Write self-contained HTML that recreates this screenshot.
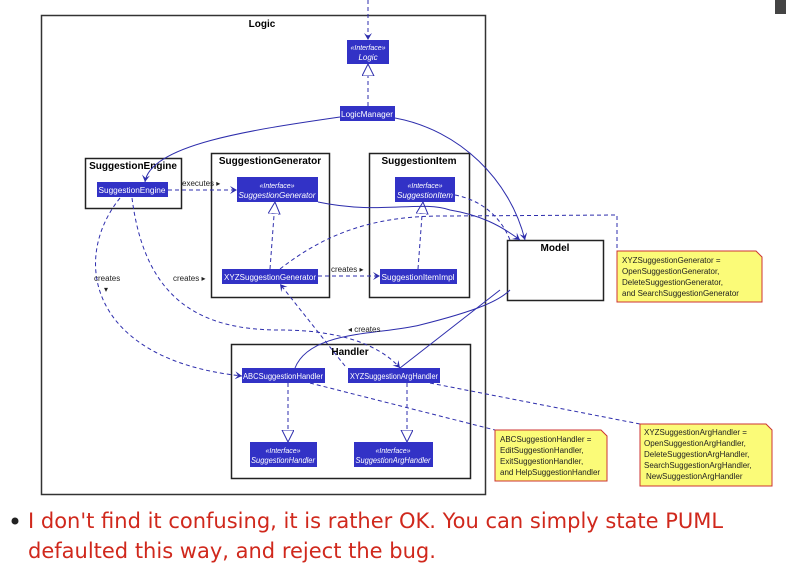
<!DOCTYPE html>
<html><head><style>
body{margin:0;width:786px;height:575px;overflow:hidden;background:#fff;font-family:"Liberation Sans",sans-serif;}
svg{position:absolute;left:0;top:0}
.t{position:absolute;left:28px;color:#d0281c;font-size:21px;line-height:30px;font-family:"DejaVu Sans","Liberation Sans",sans-serif;}
</style></head><body>
<svg width="786" height="575" font-family="Liberation Sans, sans-serif">
<defs>
<marker id="a" markerWidth="8" markerHeight="8" refX="7" refY="4" orient="auto" markerUnits="userSpaceOnUse"><path d="M0,0 L7,4 L0,8 L3,4 Z" fill="#2d2dac"/></marker>
<marker id="o" markerWidth="14" markerHeight="14" refX="12" refY="6" orient="auto" markerUnits="userSpaceOnUse"><path d="M0,0 L12,6 L0,12 Z" fill="#fff" stroke="#2d2dac"/></marker>
</defs>
<rect x="775" y="0" width="11" height="14" fill="#444"/>
<rect x="41.5" y="15.5" width="444" height="479" fill="#fff" stroke="#333" stroke-width="1.5"/>
<text x="262" y="27" font-size="10" font-weight="bold" text-anchor="middle">Logic</text>
<rect x="85.5" y="158.5" width="96" height="50" fill="none" stroke="#222" stroke-width="1.5"/>
<text x="133" y="169" font-size="10" font-weight="bold" text-anchor="middle">SuggestionEngine</text>
<rect x="211.5" y="153.5" width="118" height="144" fill="none" stroke="#222" stroke-width="1.5"/>
<text x="270" y="164" font-size="10" font-weight="bold" text-anchor="middle">SuggestionGenerator</text>
<rect x="369.5" y="153.5" width="100" height="144" fill="none" stroke="#222" stroke-width="1.5"/>
<text x="419" y="164" font-size="10" font-weight="bold" text-anchor="middle">SuggestionItem</text>
<rect x="231.5" y="344.5" width="239" height="134" fill="none" stroke="#222" stroke-width="1.5"/>
<text x="350" y="355" font-size="10" font-weight="bold" text-anchor="middle">Handler</text>
<rect x="507.5" y="240.5" width="96" height="60" fill="#fff" stroke="#222" stroke-width="1.5"/>
<text x="555" y="251" font-size="10" font-weight="bold" text-anchor="middle">Model</text>
<g stroke="#2d2dac" fill="none" stroke-width="1">
<path d="M368,0 L368,40" stroke-dasharray="4,3" marker-end="url(#a)"/>
<path d="M368,106 L368,64" stroke-dasharray="4,3" marker-end="url(#o)"/>
<path d="M340,117 C250,130 150,145 145,182" marker-end="url(#a)"/>
<path d="M395,118 C460,130 510,180 525,240" marker-end="url(#a)"/>
<path d="M168,190 L237,190" stroke-dasharray="4,3" marker-end="url(#a)"/>
<path d="M270,269 L275,202" stroke-dasharray="4,3" marker-end="url(#o)"/>
<path d="M418,269 L423,202" stroke-dasharray="4,3" marker-end="url(#o)"/>
<path d="M318,202 C380,215 420,200 450,210 C480,215 500,225 520,240" marker-end="url(#a)"/>
<path d="M455,195 C480,200 500,215 510,240" stroke-dasharray="4,3"/>
<path d="M318,276 L380,276" stroke-dasharray="4,3" marker-end="url(#a)"/>
<path d="M280,269 C330,230 380,215 450,216 L617,215 L617,251" stroke-dasharray="4,3"/>
<path d="M120,198 C70,260 90,360 242,376" stroke-dasharray="4,3" marker-end="url(#a)"/>
<path d="M132,198 C145,300 200,330 280,330 C340,330 380,345 400,368" stroke-dasharray="4,3" marker-end="url(#a)"/>
<path d="M345,366 L280,284" stroke-dasharray="4,3" marker-end="url(#a)"/>
<path d="M295,368 C310,330 380,335 420,325 C480,310 500,300 510,290"/>
<path d="M400,368 L500,290"/>
<path d="M288,383 L288,442" stroke-dasharray="4,3" marker-end="url(#o)"/>
<path d="M407,383 L407,442" stroke-dasharray="4,3" marker-end="url(#o)"/>
<path d="M310,383 L495,430" stroke-dasharray="4,3"/>
<path d="M430,383 L640,424" stroke-dasharray="4,3"/>
</g>
<g font-size="8" fill="#fff" text-anchor="middle">
<rect x="347" y="40" width="42" height="24" fill="#3232c6"/>
<text x="368" y="50" font-style="italic" font-size="7">«Interface»</text><text x="368" y="60" font-style="italic">Logic</text>
<rect x="340" y="106" width="55" height="15" fill="#3232c6"/><text x="367" y="117" textLength="52" lengthAdjust="spacingAndGlyphs">LogicManager</text>
<rect x="97" y="182" width="71" height="15" fill="#3232c6"/><text x="132" y="193" textLength="67" lengthAdjust="spacingAndGlyphs">SuggestionEngine</text>
<rect x="237" y="177" width="81" height="25" fill="#3232c6"/>
<text x="277" y="188" font-style="italic" font-size="7">«Interface»</text><text x="277" y="198" font-style="italic" textLength="77" lengthAdjust="spacingAndGlyphs">SuggestionGenerator</text>
<rect x="395" y="177" width="60" height="25" fill="#3232c6"/>
<text x="425" y="188" font-style="italic" font-size="7">«Interface»</text><text x="425" y="198" font-style="italic" textLength="56" lengthAdjust="spacingAndGlyphs">SuggestionItem</text>
<rect x="222" y="269" width="96" height="15" fill="#3232c6"/><text x="270" y="280" textLength="92" lengthAdjust="spacingAndGlyphs">XYZSuggestionGenerator</text>
<rect x="380" y="269" width="77" height="15" fill="#3232c6"/><text x="418" y="280" textLength="73" lengthAdjust="spacingAndGlyphs">SuggestionItemImpl</text>
<rect x="242" y="368" width="83" height="15" fill="#3232c6"/><text x="283" y="379" textLength="80" lengthAdjust="spacingAndGlyphs">ABCSuggestionHandler</text>
<rect x="348" y="368" width="92" height="15" fill="#3232c6"/><text x="394" y="379" textLength="88" lengthAdjust="spacingAndGlyphs">XYZSuggestionArgHandler</text>
<rect x="250" y="442" width="67" height="25" fill="#3232c6"/>
<text x="283" y="453" font-style="italic" font-size="7">«Interface»</text><text x="283" y="463" font-style="italic" textLength="64" lengthAdjust="spacingAndGlyphs">SuggestionHandler</text>
<rect x="354" y="442" width="79" height="25" fill="#3232c6"/>
<text x="393" y="453" font-style="italic" font-size="7">«Interface»</text><text x="393" y="463" font-style="italic" textLength="75" lengthAdjust="spacingAndGlyphs">SuggestionArgHandler</text>
</g>
<g font-size="8" fill="#222">
<text x="182" y="186">executes ▸</text>
<text x="331" y="272">creates ▸</text>
<text x="173" y="281">creates ▸</text>
<text x="94" y="281">creates</text><text x="104" y="292">▾</text>
<text x="348" y="332">◂ creates</text>
</g>
<g font-size="8" fill="#222">
<path d="M617,251 H756 L762,257 V302 H617 Z" fill="#fbfb78" stroke="#c33"/>
<text x="622" y="263">XYZSuggestionGenerator =</text><text x="622" y="274">OpenSuggestionGenerator,</text>
<text x="622" y="285">DeleteSuggestionGenerator,</text><text x="622" y="296">and SearchSuggestionGenerator</text>
<path d="M495,430 H601 L607,436 V481 H495 Z" fill="#fbfb78" stroke="#c33"/>
<text x="500" y="442">ABCSuggestionHandler =</text><text x="500" y="453">EditSuggestionHandler,</text>
<text x="500" y="464">ExitSuggestionHandler,</text><text x="500" y="475">and HelpSuggestionHandler</text>
<path d="M640,424 H766 L772,430 V486 H640 Z" fill="#fbfb78" stroke="#c33"/>
<text x="644" y="435">XYZSuggestionArgHandler =</text><text x="644" y="446">OpenSuggestionArgHandler,</text>
<text x="644" y="457">DeleteSuggestionArgHandler,</text><text x="644" y="468">SearchSuggestionArgHandler,</text>
<text x="646" y="479">NewSuggestionArgHandler</text>
</g>
<circle cx="15" cy="521" r="3.5" fill="#222"/>
</svg>
<div class="t" style="top:506px">I don't find it confusing, it is rather OK. You can simply state PUML</div>
<div class="t" style="top:536px">defaulted this way, and reject the bug.</div>
</body></html>
